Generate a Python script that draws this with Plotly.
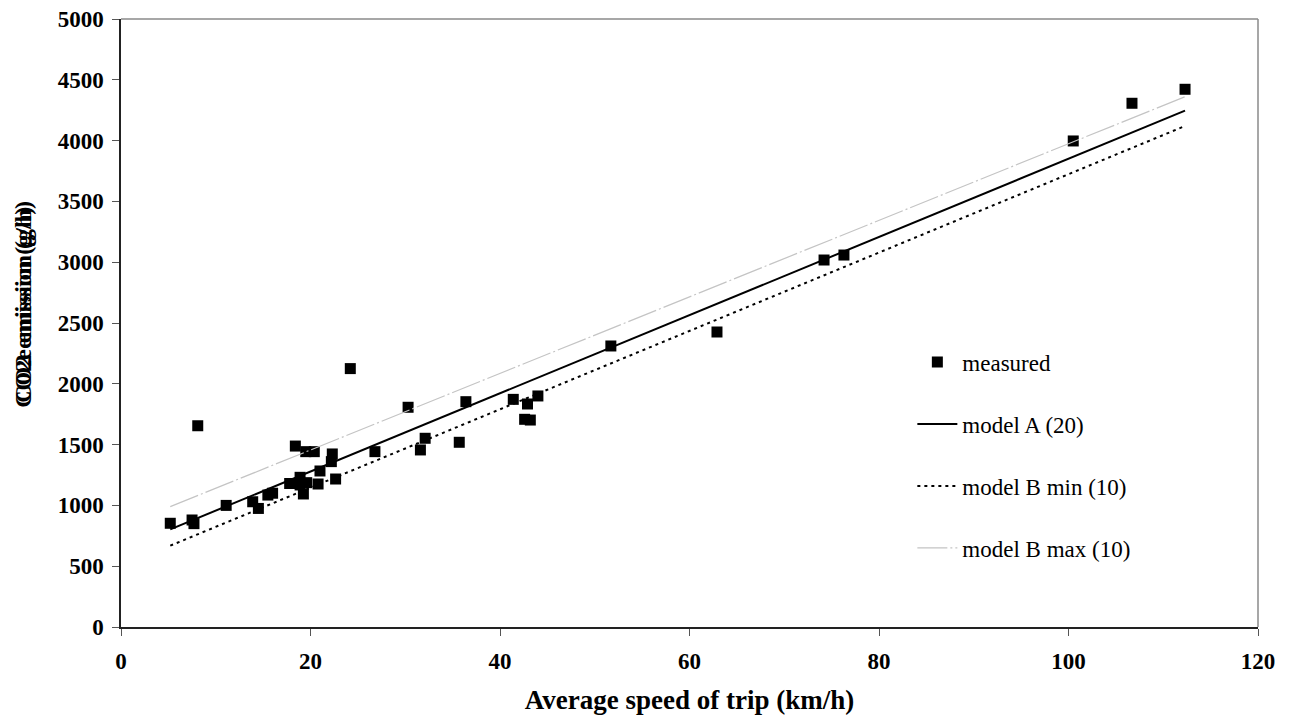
import plotly.graph_objects as go

# measured data
speed = [5.2, 7.5, 7.7, 8.1, 11.1, 13.9, 14.5, 15.5, 16.0, 17.8, 18.4, 18.9, 18.9, 19.25,
         19.5, 19.6, 20.4, 20.8, 21.0, 22.2, 22.3, 22.65, 24.2, 26.8, 30.3, 31.6, 32.1,
         35.7, 36.4, 41.4, 42.6, 42.9, 43.2, 44.0, 51.7, 62.9, 74.2, 76.3, 100.5, 106.7, 112.3]
co2 = [853, 880, 850, 1655, 1000, 1030, 975, 1085, 1100, 1180, 1488, 1231, 1168, 1094,
       1442, 1187, 1442, 1176, 1283, 1360, 1423, 1217, 2125, 1442, 1807, 1456, 1552,
       1519, 1853, 1872, 1708, 1834, 1702, 1900, 2311, 2426, 3018, 3059, 3997, 4307, 4422]

# model lines
model_x = [5.2, 112.3]
model_a = [803, 4246]
model_b_min = [669, 4120]
model_b_max = [990, 4361]

x_ticks = [0, 20, 40, 60, 80, 100, 120]
y_ticks = [0, 500, 1000, 1500, 2000, 2500, 3000, 3500, 4000, 4500, 5000]

FONT = "Liberation Serif"

fig = go.Figure()
fig.add_trace(go.Scatter(x=speed, y=co2, mode="markers", name="measured",
                         legendgroup="g1",
                         marker=dict(symbol="square", size=11, color="black")))
fig.add_trace(go.Scatter(x=model_x, y=model_a, mode="lines", name="model A (20)",
                         legendgroup="g2",
                         line=dict(color="black", width=2)))
fig.add_trace(go.Scatter(x=model_x, y=model_b_min, mode="lines", name="model B min (10)",
                         legendgroup="g3",
                         line=dict(color="black", width=2, dash="3px,4px")))
fig.add_trace(go.Scatter(x=model_x, y=model_b_max, mode="lines", name="model B max (10)",
                         legendgroup="g4",
                         line=dict(color="#c4c4c4", width=1.2, dash="30px,3px,2px,3px")))

axis_common = dict(showgrid=False, zeroline=False, showline=True, linecolor="#222",
                   linewidth=1.5, ticks="outside", ticklen=7, tickcolor="#555",
                   automargin=False, ticklabeloverflow="allow",
                   tickfont=dict(family=FONT, size=23, color="black", weight="bold"))

fig.update_xaxes(range=[0, 120], tickvals=x_ticks, ticklabelstandoff=6, **axis_common,
                 title=dict(text="<b>Average speed of trip (km/h)</b>",
                            font=dict(family=FONT, size=27, color="black"), standoff=17))
fig.update_yaxes(range=[0, 5000], tickvals=y_ticks, ticklabelstandoff=4, **axis_common)

# y-axis title (overlapping labels as in the original)
for txt in ["CO2e emission (g/h)", "CO2 emission (g/h)"]:
    fig.add_annotation(text="<b>" + txt + "</b>", xref="paper", yref="paper",
                       x=0, y=0.53, xshift=-113, textangle=-90, showarrow=False,
                       font=dict(family=FONT, size=24, color="black"))

# top and right border in grey
fig.add_shape(type="line", xref="paper", yref="paper", x0=0, x1=1, y0=1, y1=1,
              line=dict(color="#8a8a8a", width=1.5))
fig.add_shape(type="line", xref="paper", yref="paper", x0=1, x1=1, y0=0, y1=1,
              line=dict(color="#8a8a8a", width=1.5))

fig.update_layout(
    width=1291, height=724,
    margin=dict(l=113, r=41, t=11, b=105, autoexpand=False),
    paper_bgcolor="white", plot_bgcolor="white",
    font=dict(family=FONT, color="black"),
    legend=dict(x=0.696, y=0.471, xanchor="left", yanchor="top",
                font=dict(family=FONT, size=23, color="black"),
                tracegroupgap=29, bgcolor="rgba(0,0,0,0)", itemwidth=40),
    showlegend=True,
)

fig.write_html("out.html")
